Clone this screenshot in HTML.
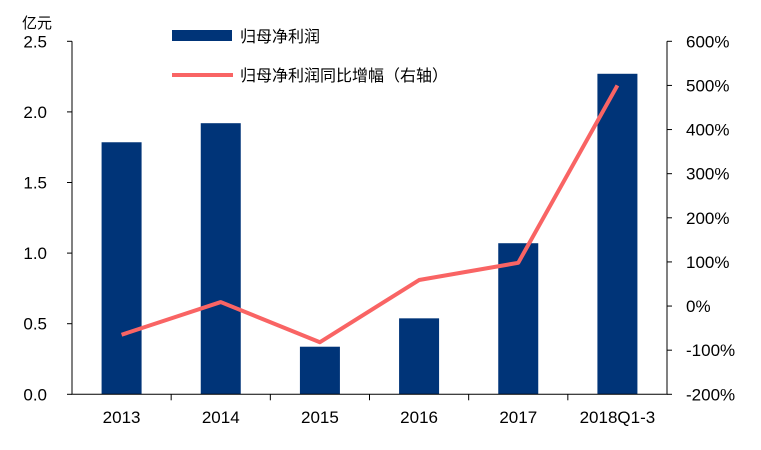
<!DOCTYPE html>
<html><head><meta charset="utf-8"><style>
body{margin:0;background:#fff;}
svg text{font-family:"Liberation Sans","Noto Sans CJK SC",sans-serif;fill:#000;}
</style></head><body>
<svg width="761" height="445">
<g id="g"></g>
</svg>
<script>
const categories=["2013","2014","2015","2016","2017","2018Q1-3"];
const profit=[1.785,1.92,0.337,0.538,1.07,2.27];
const growth=[-65,9,-82,59,98,500];
const leftTicks=["0.0","0.5","1.0","1.5","2.0","2.5"];
const leftTickVals=[0,0.5,1,1.5,2,2.5];
const rightTickVals=[-200,-100,0,100,200,300,400,500,600];
const X0=72,X1=667,YT=41.3,YB=394.3;
const cw=(X1-X0)/categories.length;
const xc=i=>X0+cw*(i+0.5);
const yl=v=>YB-(v/2.5)*(YB-YT);
const yr=v=>YB-((v+200)/800)*(YB-YT);
const g=document.getElementById('g');
const NS="http://www.w3.org/2000/svg";
function mk(t,a,txt){const e=document.createElementNS(NS,t);for(const k in a)e.setAttribute(k,a[k]);if(txt!==undefined)e.textContent=txt;g.appendChild(e);return e;}
categories.forEach((c,i)=>{
 const b=mk('rect',{x:xc(i)-20,y:yl(profit[i]),width:40,height:YB-yl(profit[i]),fill:'#003478'});
 
 
 const t=mk('text',{x:xc(i),y:423,'font-size':17,'text-anchor':'middle'},c);
 
 
});
let ax=mk('path',{d:`M${X0} ${YT}V${YB}H${X1}V${YT}`,stroke:'#000','stroke-width':1,fill:'none'});


leftTickVals.forEach((v,i)=>{
 mk('line',{x1:X0-5,x2:X0,y1:yl(v),y2:yl(v),stroke:'#000'});
 const t=mk('text',{x:47,y:yl(v)+6,'font-size':17,'text-anchor':'end'},leftTicks[i]);
 
 
});
rightTickVals.forEach(v=>{
 mk('line',{x1:X1,x2:X1+5,y1:yr(v),y2:yr(v),stroke:'#000'});
 const t=mk('text',{x:686,y:yr(v)+6,'font-size':17},v+'%');
 
 
});
for(let i=1;i<categories.length;i++){mk('line',{x1:X0+cw*i,x2:X0+cw*i,y1:YB,y2:YB+6,stroke:'#000'});}
const ln=mk('polyline',{points:growth.map((v,i)=>xc(i)+','+yr(v)).join(' '),fill:'none',stroke:'#f96464','stroke-width':4,'stroke-linejoin':'round'});


const u=mk('text',{x:22,y:28,'font-size':15},'亿元');


const l1=mk('rect',{x:172,y:30,width:60,height:11,fill:'#003478'});


const l1t=mk('text',{x:240,y:42,'font-size':16},'归母净利润');


const l2=mk('line',{x1:172,x2:233,y1:75,y2:75,stroke:'#f96464','stroke-width':4});


const l2t=mk('text',{x:240,y:81,'font-size':16},'归母净利润同比增幅（右轴）');


</script>
</body></html>
